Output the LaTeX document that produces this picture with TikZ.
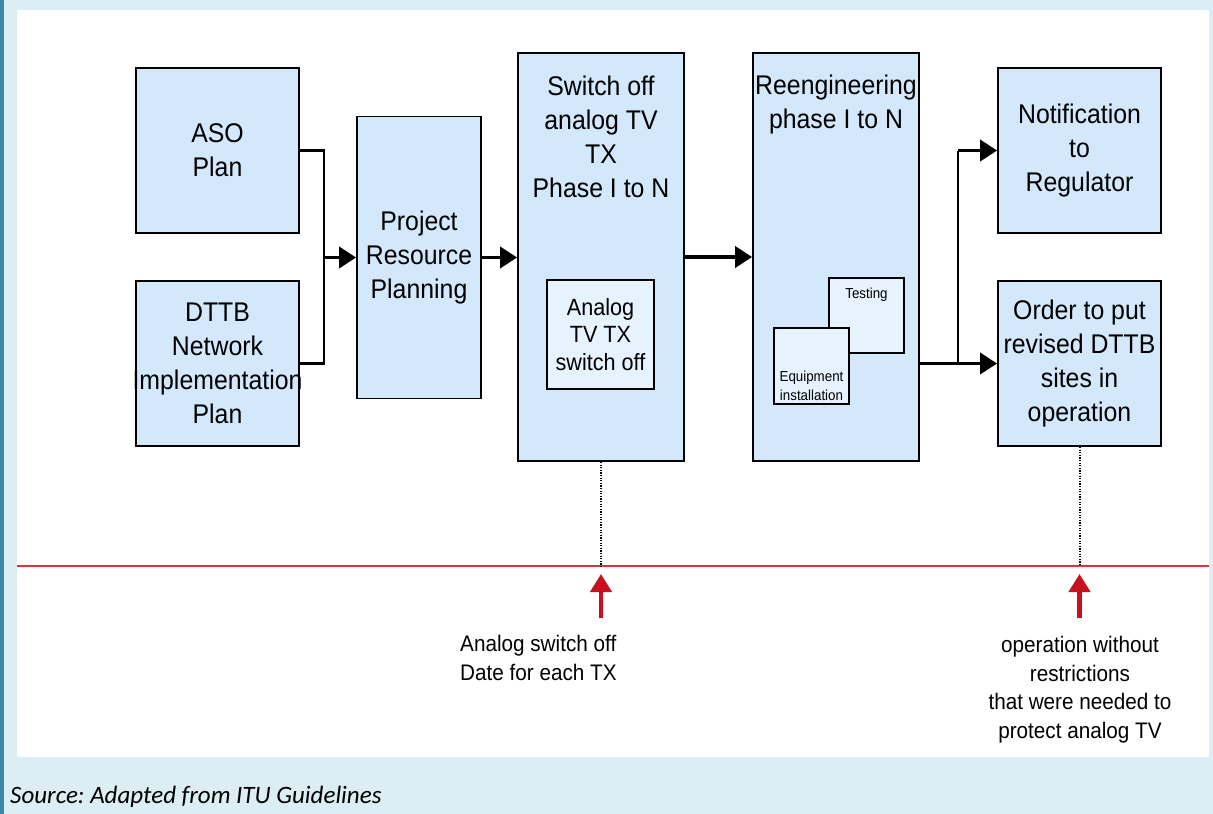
\documentclass[tikz,border=0pt]{standalone}
\usepackage{fontspec}
\setmainfont{Liberation Sans}
\newfontfamily\diagfont[FakeStretch=0.92]{Liberation Sans}
\newfontfamily\srcfont{Carlito}
\usetikzlibrary{arrows.meta}
\frenchspacing
\definecolor{pagebg}{HTML}{DCEEF4}
\definecolor{stripe}{HTML}{3A87A6}
\definecolor{boxblue}{HTML}{D4E8FB}
\definecolor{innerblue}{HTML}{E6F2FD}
\definecolor{timeline}{HTML}{E0303C}
\definecolor{markred}{HTML}{C8101E}
\tikzset{
  box/.style={draw=black, line width=1.8pt, fill=boxblue, inner sep=0pt, rectangle},
  innerbox/.style={draw=black, line width=1.6pt, fill=innerblue, inner sep=0pt, rectangle},
  bigtxt/.style={font=\diagfont\fontsize{27}{34}\selectfont, align=center, inner sep=0pt},
  midtxt/.style={font=\diagfont\fontsize{23.5}{27.5}\selectfont, align=center, inner sep=0pt},
  smalltxt/.style={font=\diagfont\fontsize{14.5}{19}\selectfont, align=center, inner sep=0pt},
  notetxt/.style={font=\diagfont\fontsize{22.5}{28.5}\selectfont, inner sep=0pt},
  thinline/.style={draw=black, line width=2.4pt},
  bigarrow/.style={draw=black, line width=3.8pt, -{Triangle[length=17pt,width=21pt]}},
  dotline/.style={draw=black, line width=2pt, dash pattern=on 1.3pt off 1.3pt},
  redarrow/.style={draw=markred, line width=4.2pt, -{Triangle[length=18pt,width=21pt]}},
}
\begin{document}
\begin{tikzpicture}[x=1pt,y=-1pt]
\useasboundingbox (0,0) rectangle (1213,814);
% page background, side stripe and white panel
\fill[pagebg] (0,0) rectangle (1213,814);
\fill[stripe] (0,0) rectangle (4,814);
\fill[white] (17,10) rectangle (1209,757);

% left column
\node[box, minimum width=163pt, minimum height=165pt, bigtxt] (aso) at (217.5,150.5) {ASO\\Plan};
\node[box, minimum width=163pt, minimum height=165pt] (dttb) at (217.5,363.5) {};
\node[bigtxt] (dttbtxt) at (dttb.center) {DTTB\\Network\\Implementation\\Plan};

% planning
\node[box, minimum width=124pt, minimum height=282pt, bigtxt] (prp) at (419,257.5) {Project\\Resource\\Planning};

% switch-off phase
\node[box, minimum width=166pt, minimum height=408pt] (sw) at (601,257) {};
\node[bigtxt, anchor=north] (swtxt) at (601,75.5) {Switch off\\analog TV\\TX\\Phase I to N};
\node[innerbox, minimum width=107pt, minimum height=109pt, midtxt] (aso2) at (600.5,334.5) {Analog\\TV TX\\switch off};

% reengineering phase
\node[box, minimum width=166pt, minimum height=408pt] (re) at (836,257) {};
\node[bigtxt, anchor=north] (retxt) at (836,75) {Reengineering\\phase I to N};
\node[innerbox, minimum width=75pt, minimum height=75pt] (test) at (866.5,315.5) {};
\node[smalltxt, anchor=north] (testtxt) at (866.5,288) {Testing};
\node[innerbox, minimum width=75pt, minimum height=76pt] (equip) at (811.5,366) {};
\node[smalltxt, anchor=north] (equiptxt) at (811.5,371) {Equipment\\installation};

% outcomes
\node[box, minimum width=163pt, minimum height=165pt, bigtxt] (notif) at (1079.5,150.5) {Notification\\to\\Regulator};
\node[box, minimum width=163pt, minimum height=165pt, bigtxt] (order) at (1079.5,363.5) {Order to put\\revised DTTB\\sites in\\operation};

% connectors
\coordinate (brk) at (324,257.5);
\draw[thinline] (aso.east) -| (brk) |- (dttb.east);
\draw[bigarrow] (brk) -- (prp.west);
\draw[bigarrow] (prp.east) -- (prp.east -| sw.west);
\draw[bigarrow] (sw.east) -- (re.west);
\coordinate (fork) at (958,363.5);
\draw[bigarrow] (order.west -| re.east) -- (order.west);
\draw[thinline] (fork) -- (fork |- notif.west);
\draw[bigarrow] (fork |- notif.west) -- (notif.west);

% timeline
\coordinate (tl0) at (17,566);
\coordinate (tl1) at (1209,566);
\draw[timeline, line width=2pt] (tl0) -- (tl1);
\coordinate (m1) at (sw.south |- tl0);
\coordinate (m2) at (order.south |- tl0);
\draw[dotline] (sw.south) -- (m1);
\draw[dotline] (order.south) -- (m2);
\coordinate (m1a) at (601,618);
\coordinate (m1b) at (601,574);
\coordinate (m2a) at (1079.5,618);
\coordinate (m2b) at (1079.5,574);
\draw[redarrow] (m1a) -- (m1b);
\draw[redarrow] (m2a) -- (m2b);

\node[notetxt, align=left, anchor=north west] (note1) at (460,635) {Analog switch off\\Date for each TX};
\node[notetxt, align=center, anchor=north] (note2) at (1080,636) {operation without\\restrictions\\that were needed to\\protect analog TV};

% caption
\node[font=\srcfont\itshape\fontsize{25}{29}\selectfont, anchor=base west, inner sep=0pt] (src) at (10,803) {Source: Adapted from ITU Guidelines};
\end{tikzpicture}
\end{document}
